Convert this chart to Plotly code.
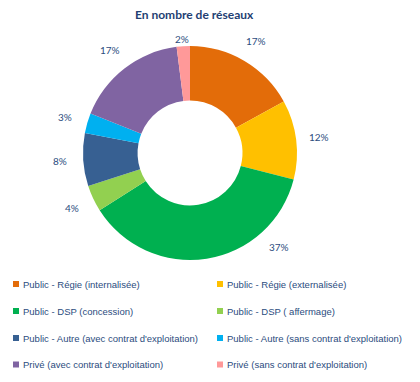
import math
import plotly.graph_objects as go

# ---- data ----
categories = [
    "Public - Régie (internalisée)",
    "Public - Régie (externalisée)",
    "Public - DSP (concession)",
    "Public - DSP ( affermage)",
    "Public - Autre (avec contrat d'exploitation)",
    "Public - Autre (sans contrat d'exploitation)",
    "Privé (avec contrat d'exploitation)",
    "Privé (sans contrat d'exploitation)",
]
values = [17, 12, 37, 4, 8, 3, 17, 2]
colors = ["#E36C09", "#FFC000", "#00B050", "#92D050",
          "#376092", "#00B0F0", "#8064A2", "#FF9999"]
title_text = "En nombre de réseaux"

# ---- layout constants (page pixels; the page body has an 8px margin) ----
OFF = 8
W, H = 420 - 2 * OFF, 382 - 2 * OFF
CX, CY, R = 190, 153, 107
LABEL_R = 130          # distance of percentage labels from the centre
LABEL_MIN_Y = 39       # labels are kept inside the plot area (below the title)
FONT = "Lato"
LEG_FONT = "Liberation Sans"
TXT = "#2B4C7E"

def px(x):
    return (x - OFF) / W

def py(y):
    return 1 - (y - OFF) / H

fig = go.Figure()
fig.add_trace(go.Pie(
    labels=categories, values=values, sort=False, direction="clockwise",
    rotation=0, hole=0.49, textinfo="none", hoverinfo="label+percent",
    marker=dict(colors=colors, line=dict(width=0)),
    showlegend=False,
    domain=dict(x=[px(CX - R), px(CX + R)], y=[py(CY + R), py(CY - R)]),
))

annotations = [dict(text="<b>" + title_text + "</b>", x=px(194), y=py(14),
                    xanchor="center", yanchor="middle",
                    xref="paper", yref="paper", showarrow=False,
                    font=dict(family=FONT, size=12, color="#1F3F73"))]

# percentage labels outside the ring, placed along each slice's mid-angle
total = sum(values)
cum = 0
label_angle_override = {"Public - DSP (concession)": 136.5}
for cat, v in zip(categories, values):
    mid = (cum + v / 2) / total * 360
    cum += v
    ang = label_angle_override.get(cat, mid)
    t = math.radians(ang)
    lx = CX + LABEL_R * math.sin(t)
    ly = max(CY - LABEL_R * math.cos(t), LABEL_MIN_Y)
    annotations.append(dict(
        text=f"{round(v / total * 100)}%", x=px(lx), y=py(ly),
        xanchor="center", yanchor="middle",
        xref="paper", yref="paper", showarrow=False,
        font=dict(family=FONT, size=10, color=TXT)))

# legend in two columns
shapes = []
col_x = [13, 217]
row_y = [284, 311, 338, 364.5]
for i, (cat, col) in enumerate(zip(categories, colors)):
    cx = col_x[i % 2]
    cy = row_y[i // 2]
    shapes.append(dict(type="rect", xref="paper", yref="paper",
                       x0=px(cx), x1=px(cx + 6), y0=py(cy + 3), y1=py(cy - 3),
                       fillcolor=col, line=dict(width=0)))
    annotations.append(dict(text=cat, x=px(cx + 8), y=py(cy),
                            xanchor="left", yanchor="middle",
                            xref="paper", yref="paper", showarrow=False,
                            font=dict(family=LEG_FONT, size=9.5, color=TXT)))

fig.update_layout(
    width=W, height=H, margin=dict(l=0, r=0, t=0, b=0),
    paper_bgcolor="white", plot_bgcolor="white",
    annotations=annotations, shapes=shapes,
)
fig.write_html("out.html")
